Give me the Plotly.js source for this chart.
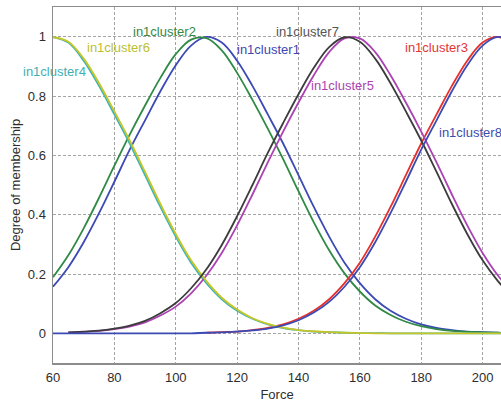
<!DOCTYPE html>
<html>
<head>
<meta charset="utf-8">
<script src="https://cdn.plot.ly/plotly-3.0.1.min.js"></script>
<style>
  html, body { margin: 0; padding: 0; background: #ffffff; overflow: hidden; }
  #chart { width: 501px; height: 402px; }
</style>
</head>
<body>
<div id="chart"></div>
<script>
// Input variable "Force": membership degree of each cluster's fuzzy set
const FORCE = [60, 65, 70, 75, 80, 85, 90, 95, 100, 105, 110, 115, 120, 125, 130, 135,
               140, 145, 150, 155, 160, 165, 170, 175, 180, 185, 190, 195, 200, 205, 210];

const in1cluster1 = [0.157, 0.223, 0.307, 0.405, 0.511, 0.619, 0.718, 0.816, 0.904, 0.970, 0.999,
                     0.980, 0.919, 0.834, 0.738, 0.640, 0.533, 0.426, 0.326, 0.238, 0.169, 0.115,
                     0.076, 0.049, 0.030, 0.018, 0.011, 0.006, 0.004, 0.002, 0.001];
const in1cluster2 = [0.189, 0.263, 0.354, 0.457, 0.565, 0.670, 0.768, 0.861, 0.941, 0.990, 0.995,
                     0.954, 0.878, 0.787, 0.690, 0.587, 0.479, 0.374, 0.280, 0.202, 0.141, 0.094,
                     0.062, 0.039, 0.024, 0.014, 0.008, 0.005, 0.003, 0.002, 0.001];
const in1cluster3 = [null, null, null, null, null, null, null, null, null, null, 0.002,
                     0.004, 0.006, 0.011, 0.018, 0.030, 0.049, 0.076, 0.115, 0.169, 0.238, 0.326,
                     0.426, 0.533, 0.640, 0.738, 0.834, 0.919, 0.980, 0.999, 0.970];
const in1cluster4 = [0.999, 0.980, 0.919, 0.834, 0.738, 0.640, 0.533, 0.426, 0.326, 0.238, 0.169,
                     0.115, 0.076, 0.049, 0.030, 0.018, 0.011, 0.006, 0.004, 0.002, 0.001, 0.001,
                     0, 0, 0, 0, 0, 0, 0, 0, 0];
const in1cluster5 = [null, 0.003, 0.005, 0.008, 0.014, 0.023, 0.037, 0.060, 0.090, 0.135, 0.195,
                     0.271, 0.364, 0.468, 0.576, 0.680, 0.778, 0.870, 0.948, 0.994, 0.994, 0.948,
                     0.870, 0.778, 0.680, 0.576, 0.468, 0.364, 0.271, 0.195, 0.135];
const in1cluster6 = [0.998, 0.983, 0.926, 0.843, 0.748, 0.650, 0.544, 0.436, 0.335, 0.246, 0.176,
                     0.120, 0.080, 0.051, 0.032, 0.019, 0.011, 0.007, 0.004, 0.002, 0.001, 0,
                     0, 0, 0, 0, 0, 0, 0, 0, 0];
const in1cluster7 = [null, 0.003, 0.006, 0.009, 0.016, 0.026, 0.042, 0.068, 0.102, 0.152, 0.216,
                     0.298, 0.395, 0.500, 0.608, 0.709, 0.806, 0.895, 0.965, 0.998, 0.983, 0.926,
                     0.843, 0.748, 0.650, 0.544, 0.436, 0.335, 0.246, 0.176, 0.120];
const in1cluster8 = [0, 0, 0, 0, 0, 0, 0, 0, 0, 0, 0.002,
                     0.003, 0.006, 0.010, 0.016, 0.027, 0.044, 0.070, 0.106, 0.157, 0.223, 0.307,
                     0.405, 0.511, 0.619, 0.718, 0.816, 0.904, 0.970, 0.999, 0.980];

const SET_NAMES = ["in1cluster1", "in1cluster2", "in1cluster3", "in1cluster4",
                   "in1cluster5", "in1cluster6", "in1cluster7", "in1cluster8"];
const SET_VALUES = [in1cluster1, in1cluster2, in1cluster3, in1cluster4,
                    in1cluster5, in1cluster6, in1cluster7, in1cluster8];

const X_TICKS = [60, 80, 100, 120, 140, 160, 180, 200];
const Y_TICKS = [0, 0.2, 0.4, 0.6, 0.8, 1];
const Y_TICK_TEXT = ["0", "0.2", "0.4", "0.6", "0.8", "1"];

// styling
const lineColors = ["#3b4ab4", "#2f8a45", "#e6302b", "#3ab3b6",
                    "#ac42b4", "#c6c628", "#3c3c3c", "#3b4ab4"];
const textColors = ["#3e46ae", "#358845", "#e43535", "#3eb0b4",
                    "#ac44b2", "#bebe2e", "#555555", "#3e4cae"];
// label anchor points (data coordinates) for each set name
const labelPos = [
  [130.1, 0.957], [96.3, 1.017], [184.9, 0.965], [60.65, 0.884],
  [154.5, 0.837], [81.2, 0.964], [142.9, 1.019], [195.9, 0.676]
];

const traces = SET_NAMES.map((name, i) => ({
  x: FORCE,
  y: SET_VALUES[i],
  name: name,
  type: "scatter",
  mode: "lines",
  line: { color: lineColors[i], width: 1.8, shape: "spline", smoothing: 1 },
  connectgaps: false,
  hoverinfo: "skip"
}));

const annotations = SET_NAMES.map((name, i) => ({
  x: labelPos[i][0], y: labelPos[i][1], xref: "x", yref: "y",
  text: name, showarrow: false,
  xanchor: "center", yanchor: "middle",
  font: { family: "Liberation Sans, Arial, sans-serif", size: 13, color: textColors[i] }
}));

const tickFont = { family: "Liberation Sans, Arial, sans-serif", size: 13, color: "#2e2e2e" };

const layout = {
  width: 501,
  height: 402,
  margin: { l: 53, r: 0, t: 7, b: 39 },
  paper_bgcolor: "#ffffff",
  plot_bgcolor: "#ffffff",
  showlegend: false,
  xaxis: {
    range: [60, 206],
    tickvals: X_TICKS,
    ticktext: X_TICKS.map(String),
    tickfont: tickFont,
    ticks: "outside", ticklen: 2, tickcolor: "rgba(0,0,0,0)",
    showline: true, linecolor: "#8c8c8c", linewidth: 1.5, mirror: true,
    showgrid: true, gridcolor: "#a4a4a4", gridwidth: 1, griddash: "3px,2px",
    zeroline: false,
    title: { text: "Force", font: { family: "Liberation Sans, Arial, sans-serif", size: 13, color: "#2e2e2e" }, standoff: 6 }
  },
  yaxis: {
    range: [-0.1, 1.1],
    tickvals: Y_TICKS,
    ticktext: Y_TICK_TEXT,
    tickfont: tickFont,
    ticks: "outside", ticklen: 3, tickcolor: "rgba(0,0,0,0)",
    showline: true, linecolor: "#8c8c8c", linewidth: 1.5, mirror: false,
    showgrid: true, gridcolor: "#a4a4a4", gridwidth: 1, griddash: "3px,2px",
    zeroline: false,
    title: { text: "Degree of membership", font: { family: "Liberation Sans, Arial, sans-serif", size: 13, color: "#2e2e2e" }, standoff: 4 }
  },
  annotations: annotations
};

Plotly.newPlot("chart", traces, layout, { staticPlot: true, displayModeBar: false });
</script>
</body>
</html>
